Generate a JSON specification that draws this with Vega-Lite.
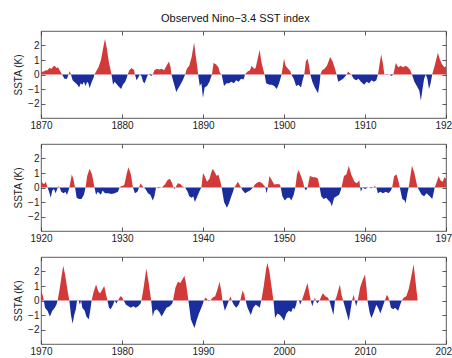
{
  "$schema": "https://vega.github.io/schema/vega-lite/v6.json",
  "background": "white",
  "padding": {"left": 13, "top": 13, "right": 0, "bottom": 0},
  "title": {"text": "Observed Nino\u22123.4 SST index", "fontSize": 11, "fontWeight": "normal", "font": "Liberation Sans", "color": "#111", "anchor": "middle", "offset": 6},
  "datasets": {
    "nino": [
      {"t":1870.0,"v":0.15},{"t":1870.3,"v":0.2},{"t":1870.6,"v":0.3},{"t":1870.8,"v":0.3},{"t":1871.05,"v":0.45},{"t":1871.3,"v":0.4},{"t":1871.5,"v":0.55},{"t":1871.7,"v":0.6},{"t":1871.9,"v":0.45},{"t":1872.1,"v":0.5},{"t":1872.3,"v":0.3},{"t":1872.5,"v":0.1},{"t":1872.6,"v":0},{"t":1872.9,"v":-0.3},{"t":1873.2,"v":-0.3},{"t":1873.4,"v":0},{"t":1873.55,"v":0.25},{"t":1873.7,"v":0},
      {"t":1873.9,"v":-0.4},{"t":1874.1,"v":-0.5},{"t":1874.3,"v":-0.6},{"t":1874.5,"v":-0.7},{"t":1874.7,"v":-0.9},{"t":1874.9,"v":-0.6},{"t":1875.1,"v":-0.7},{"t":1875.3,"v":-0.5},{"t":1875.5,"v":-0.8},{"t":1875.7,"v":-0.5},{"t":1875.85,"v":-0.6},{"t":1876.0,"v":-0.95},{"t":1876.2,"v":-0.6},{"t":1876.5,"v":-0.2},{"t":1876.6,"v":0},
      {"t":1876.8,"v":0.2},{"t":1877.1,"v":0.5},{"t":1877.4,"v":1.0},{"t":1877.7,"v":1.9},{"t":1877.9,"v":2.45},{"t":1878.1,"v":1.9},{"t":1878.4,"v":0.8},{"t":1878.6,"v":0.3},{"t":1878.7,"v":0},
      {"t":1878.9,"v":-0.7},{"t":1879.1,"v":-0.5},{"t":1879.4,"v":-0.7},{"t":1879.7,"v":-0.9},{"t":1879.9,"v":-1.0},{"t":1880.1,"v":-0.7},{"t":1880.4,"v":-0.5},{"t":1880.6,"v":-0.2},{"t":1880.7,"v":0},
      {"t":1880.9,"v":0.3},{"t":1881.2,"v":0.45},{"t":1881.5,"v":0.3},{"t":1881.6,"v":0},{"t":1881.8,"v":-0.4},{"t":1882.0,"v":-0.2},{"t":1882.2,"v":0},{"t":1882.4,"v":-0.1},{"t":1882.6,"v":-0.5},{"t":1882.8,"v":-0.6},{"t":1883.0,"v":-0.3},{"t":1883.2,"v":0},{"t":1883.4,"v":0.05},{"t":1883.6,"v":-0.1},{"t":1883.8,"v":0},
      {"t":1884.0,"v":0.3},{"t":1884.3,"v":0.4},{"t":1884.6,"v":0.35},{"t":1884.9,"v":0.4},{"t":1885.2,"v":0.3},{"t":1885.5,"v":0.6},{"t":1885.8,"v":0.9},{"t":1886.0,"v":0.5},{"t":1886.1,"v":0},
      {"t":1886.4,"v":-0.6},{"t":1886.7,"v":-1.2},{"t":1886.9,"v":-1.0},{"t":1887.2,"v":-0.7},{"t":1887.5,"v":-0.4},{"t":1887.8,"v":0},
      {"t":1888.0,"v":0.4},{"t":1888.3,"v":0.6},{"t":1888.6,"v":1.2},{"t":1888.9,"v":2.2},{"t":1889.1,"v":1.3},{"t":1889.3,"v":0.5},{"t":1889.4,"v":0},
      {"t":1889.6,"v":-0.8},{"t":1889.8,"v":-0.6},{"t":1890.0,"v":-1.6},{"t":1890.2,"v":-0.9},{"t":1890.5,"v":-0.8},{"t":1890.8,"v":-0.5},{"t":1891.1,"v":0},
      {"t":1891.3,"v":0.8},{"t":1891.6,"v":0.7},{"t":1891.9,"v":0.5},{"t":1892.1,"v":0.1},{"t":1892.3,"v":0},
      {"t":1892.6,"v":-0.8},{"t":1892.9,"v":-0.6},{"t":1893.2,"v":-0.6},{"t":1893.5,"v":-0.5},{"t":1893.8,"v":-0.6},{"t":1894.1,"v":-0.4},{"t":1894.4,"v":-0.5},{"t":1894.7,"v":-0.3},{"t":1895.0,"v":-0.35},{"t":1895.2,"v":0},
      {"t":1895.5,"v":0.2},{"t":1895.8,"v":0.3},{"t":1896.0,"v":0.6},{"t":1896.3,"v":0.4},{"t":1896.5,"v":0.45},{"t":1896.8,"v":1.2},{"t":1897.0,"v":1.7},{"t":1897.2,"v":0.9},{"t":1897.5,"v":0.2},{"t":1897.6,"v":0},
      {"t":1897.8,"v":-0.6},{"t":1898.2,"v":-0.7},{"t":1898.5,"v":-0.7},{"t":1898.8,"v":-0.8},{"t":1899.1,"v":-1.0},{"t":1899.4,"v":-0.6},{"t":1899.7,"v":0},
      {"t":1899.9,"v":0.7},{"t":1900.0,"v":1.1},{"t":1900.2,"v":0.6},{"t":1900.5,"v":0.4},{"t":1900.8,"v":0.2},{"t":1900.9,"v":0},
      {"t":1901.2,"v":-0.3},{"t":1901.5,"v":-0.8},{"t":1901.8,"v":-0.7},{"t":1902.1,"v":-0.9},{"t":1902.3,"v":-0.4},{"t":1902.5,"v":0},
      {"t":1902.7,"v":0.9},{"t":1902.9,"v":1.1},{"t":1903.1,"v":0.6},{"t":1903.25,"v":0},
      {"t":1903.5,"v":-0.5},{"t":1903.8,"v":-0.9},{"t":1904.2,"v":-1.3},{"t":1904.4,"v":-0.6},{"t":1904.5,"v":0},
      {"t":1904.7,"v":0.3},{"t":1905.0,"v":0.4},{"t":1905.3,"v":0.6},{"t":1905.5,"v":0.9},{"t":1905.7,"v":1.2},{"t":1906.0,"v":0.9},{"t":1906.3,"v":0.4},{"t":1906.5,"v":0},
      {"t":1906.7,"v":-0.5},{"t":1907.0,"v":-0.4},{"t":1907.3,"v":-0.3},{"t":1907.6,"v":-0.1},{"t":1907.75,"v":0},{"t":1907.9,"v":0.2},{"t":1908.1,"v":0.1},{"t":1908.3,"v":0},
      {"t":1908.6,"v":-0.3},{"t":1908.9,"v":-0.4},{"t":1909.2,"v":-0.3},{"t":1909.5,"v":-0.5},{"t":1909.9,"v":-0.7},{"t":1910.2,"v":-0.5},{"t":1910.5,"v":-0.6},{"t":1910.8,"v":-0.4},{"t":1911.1,"v":-0.5},{"t":1911.4,"v":-0.4},{"t":1911.6,"v":0},
      {"t":1911.8,"v":0.7},{"t":1912.0,"v":1.4},{"t":1912.2,"v":0.8},{"t":1912.4,"v":0},{"t":1912.7,"v":0.05},{"t":1913.0,"v":0},{"t":1913.3,"v":-0.1},{"t":1913.5,"v":0},
      {"t":1913.8,"v":0.8},{"t":1914.1,"v":0.5},{"t":1914.4,"v":0.6},{"t":1914.7,"v":0.5},{"t":1915.0,"v":0.6},{"t":1915.3,"v":0.5},{"t":1915.6,"v":0.3},{"t":1915.8,"v":0},
      {"t":1916.1,"v":-0.5},{"t":1916.4,"v":-0.8},{"t":1916.7,"v":-1.1},{"t":1916.9,"v":-1.8},{"t":1917.1,"v":-1.0},{"t":1917.3,"v":-0.3},{"t":1917.5,"v":0},{"t":1917.7,"v":-0.3},{"t":1917.9,"v":-1.0},{"t":1918.1,"v":-0.6},{"t":1918.3,"v":0},
      {"t":1918.6,"v":0.6},{"t":1919.0,"v":1.5},{"t":1919.2,"v":1.1},{"t":1919.5,"v":0.7},{"t":1919.8,"v":0.5},{"t":1920.0,"v":0.55},
      {"t":1920.2,"v":0.3},{"t":1920.4,"v":0.25},{"t":1920.6,"v":0.4},{"t":1920.8,"v":0},{"t":1921.0,"v":-0.3},{"t":1921.2,"v":-0.7},{"t":1921.4,"v":-0.2},{"t":1921.6,"v":-0.1},{"t":1921.8,"v":-0.4},{"t":1922.0,"v":-0.1},{"t":1922.1,"v":0},{"t":1922.2,"v":0.1},{"t":1922.3,"v":0},
      {"t":1922.5,"v":-0.3},{"t":1922.8,"v":-0.4},{"t":1923.0,"v":-0.3},{"t":1923.2,"v":-0.5},{"t":1923.4,"v":-0.2},{"t":1923.5,"v":0},
      {"t":1923.8,"v":0.9},{"t":1924.0,"v":0.6},{"t":1924.2,"v":0},{"t":1924.4,"v":-0.7},{"t":1924.7,"v":-0.8},{"t":1925.0,"v":-0.8},{"t":1925.3,"v":-0.5},{"t":1925.5,"v":0},
      {"t":1925.7,"v":0.8},{"t":1926.0,"v":1.3},{"t":1926.3,"v":0.9},{"t":1926.6,"v":0},
      {"t":1926.8,"v":-0.5},{"t":1927.0,"v":-0.3},{"t":1927.2,"v":-0.4},{"t":1927.4,"v":-0.5},{"t":1927.6,"v":-0.2},{"t":1927.9,"v":-0.4},{"t":1928.3,"v":-0.4},{"t":1928.7,"v":-0.45},{"t":1929.1,"v":-0.4},{"t":1929.5,"v":-0.3},{"t":1929.7,"v":0},
      {"t":1929.9,"v":0.1},{"t":1930.1,"v":0.1},{"t":1930.3,"v":0.2},{"t":1930.6,"v":1.0},{"t":1930.8,"v":1.4},{"t":1931.1,"v":0.9},{"t":1931.35,"v":0},
      {"t":1931.6,"v":-0.4},{"t":1931.9,"v":-0.3},{"t":1932.1,"v":0},{"t":1932.3,"v":0.3},{"t":1932.5,"v":0.1},{"t":1932.7,"v":0},
      {"t":1932.9,"v":-0.1},{"t":1933.2,"v":-0.4},{"t":1933.5,"v":-0.5},{"t":1933.8,"v":-0.9},{"t":1934.0,"v":-0.6},{"t":1934.2,"v":0},{"t":1934.5,"v":-0.05},{"t":1934.9,"v":0},
      {"t":1935.3,"v":0.2},{"t":1935.6,"v":0.5},{"t":1935.9,"v":0.6},{"t":1936.2,"v":0.3},{"t":1936.35,"v":0},{"t":1936.45,"v":-0.1},{"t":1936.6,"v":0},{"t":1936.9,"v":0.3},{"t":1937.2,"v":0.25},{"t":1937.5,"v":0.05},{"t":1937.8,"v":0},
      {"t":1938.1,"v":-0.3},{"t":1938.3,"v":-0.6},{"t":1938.6,"v":-0.7},{"t":1938.8,"v":-0.6},{"t":1939.0,"v":-1.0},{"t":1939.3,"v":-0.6},{"t":1939.6,"v":-0.2},{"t":1939.8,"v":0},
      {"t":1940.0,"v":1.0},{"t":1940.2,"v":0.8},{"t":1940.5,"v":0.4},{"t":1940.8,"v":0.6},{"t":1941.0,"v":1.0},{"t":1941.2,"v":1.3},{"t":1941.5,"v":1.0},{"t":1941.7,"v":0.8},{"t":1941.9,"v":0.9},{"t":1942.2,"v":0.3},{"t":1942.3,"v":0},
      {"t":1942.6,"v":-1.0},{"t":1942.95,"v":-1.4},{"t":1943.2,"v":-1.1},{"t":1943.5,"v":-0.6},{"t":1943.7,"v":-0.3},{"t":1943.85,"v":0},
      {"t":1944.0,"v":0.1},{"t":1944.3,"v":0.4},{"t":1944.6,"v":0.1},{"t":1944.7,"v":0},
      {"t":1944.9,"v":-0.2},{"t":1945.2,"v":-0.4},{"t":1945.5,"v":-0.3},{"t":1945.8,"v":-0.2},{"t":1946.2,"v":0},
      {"t":1946.4,"v":0.2},{"t":1946.7,"v":0.35},{"t":1947.0,"v":0.4},{"t":1947.3,"v":0.3},{"t":1947.6,"v":0.1},{"t":1947.7,"v":0},{"t":1947.85,"v":-0.4},{"t":1948.0,"v":0},
      {"t":1948.2,"v":0.8},{"t":1948.5,"v":0.5},{"t":1948.8,"v":0.2},{"t":1949.2,"v":0.25},{"t":1949.5,"v":0.2},{"t":1949.6,"v":0},
      {"t":1949.8,"v":-0.6},{"t":1950.1,"v":-0.9},{"t":1950.4,"v":-0.7},{"t":1950.7,"v":-0.7},{"t":1950.9,"v":-0.9},{"t":1951.2,"v":-0.5},{"t":1951.4,"v":0},
      {"t":1951.6,"v":0.9},{"t":1951.8,"v":1.2},{"t":1952.1,"v":0.8},{"t":1952.4,"v":0.3},{"t":1952.5,"v":0},{"t":1952.7,"v":-0.2},{"t":1952.9,"v":0},
      {"t":1953.2,"v":0.8},{"t":1953.6,"v":0.7},{"t":1953.9,"v":0.7},{"t":1954.2,"v":0.6},{"t":1954.4,"v":0},
      {"t":1954.6,"v":-0.6},{"t":1954.9,"v":-0.8},{"t":1955.2,"v":-0.7},{"t":1955.5,"v":-0.9},{"t":1955.7,"v":-1.0},{"t":1955.9,"v":-1.3},{"t":1956.2,"v":-0.7},{"t":1956.5,"v":-0.6},{"t":1956.8,"v":-0.5},{"t":1957.0,"v":-0.2},{"t":1957.1,"v":0},
      {"t":1957.4,"v":0.8},{"t":1957.7,"v":0.9},{"t":1958.0,"v":1.5},{"t":1958.3,"v":0.9},{"t":1958.7,"v":0.4},{"t":1959.0,"v":0.3},{"t":1959.3,"v":0.5},{"t":1959.4,"v":0},{"t":1959.5,"v":-0.3},{"t":1959.7,"v":0},
      {"t":1960.0,"v":-0.1},{"t":1960.4,"v":0},{"t":1960.8,"v":-0.05},{"t":1961.0,"v":0},{"t":1961.2,"v":0.1},{"t":1961.4,"v":0},
      {"t":1961.6,"v":-0.4},{"t":1961.9,"v":-0.3},{"t":1962.2,"v":-0.4},{"t":1962.6,"v":-0.3},{"t":1962.9,"v":-0.4},{"t":1963.2,"v":-0.2},{"t":1963.35,"v":0},
      {"t":1963.6,"v":0.8},{"t":1963.9,"v":0.9},{"t":1964.2,"v":0.3},{"t":1964.3,"v":0},{"t":1964.6,"v":-0.8},{"t":1964.9,"v":-0.9},{"t":1965.0,"v":-1.1},{"t":1965.3,"v":-0.2},{"t":1965.4,"v":0},
      {"t":1965.6,"v":0.8},{"t":1965.8,"v":1.5},{"t":1966.1,"v":1.0},{"t":1966.4,"v":0.2},{"t":1966.5,"v":0},
      {"t":1966.7,"v":-0.2},{"t":1967.0,"v":-0.5},{"t":1967.3,"v":-0.6},{"t":1967.6,"v":-0.4},{"t":1968.0,"v":-0.6},{"t":1968.3,"v":-0.8},{"t":1968.5,"v":-0.3},{"t":1968.6,"v":0},
      {"t":1968.8,"v":0.3},{"t":1969.1,"v":0.8},{"t":1969.3,"v":0.5},{"t":1969.6,"v":0.4},{"t":1969.8,"v":0.7},{"t":1970.0,"v":0.6},
      {"t":1970.2,"v":0.4},{"t":1970.35,"v":0},{"t":1970.5,"v":-0.5},{"t":1970.8,"v":-0.7},{"t":1971.1,"v":-1.1},{"t":1971.4,"v":-0.7},{"t":1971.7,"v":-0.5},{"t":1971.9,"v":-0.3},{"t":1972.05,"v":0},
      {"t":1972.3,"v":0.8},{"t":1972.6,"v":1.9},{"t":1972.75,"v":2.4},{"t":1973.0,"v":1.7},{"t":1973.3,"v":0.6},{"t":1973.5,"v":0},
      {"t":1973.7,"v":-1.0},{"t":1973.9,"v":-1.6},{"t":1974.1,"v":-1.0},{"t":1974.3,"v":-0.6},{"t":1974.45,"v":0},{"t":1974.55,"v":0.05},{"t":1974.65,"v":0},{"t":1974.8,"v":-0.3},{"t":1974.95,"v":0},
      {"t":1975.1,"v":-0.5},{"t":1975.4,"v":-0.7},{"t":1975.6,"v":-1.1},{"t":1975.9,"v":-1.3},{"t":1976.1,"v":-0.6},{"t":1976.25,"v":0},
      {"t":1976.5,"v":0.6},{"t":1976.8,"v":1.1},{"t":1977.1,"v":0.6},{"t":1977.3,"v":0.5},{"t":1977.6,"v":0.8},{"t":1977.8,"v":1.0},{"t":1978.0,"v":0.5},{"t":1978.2,"v":0},
      {"t":1978.4,"v":-0.5},{"t":1978.6,"v":-0.6},{"t":1978.9,"v":-0.3},{"t":1979.1,"v":0},{"t":1979.3,"v":-0.2},{"t":1979.5,"v":0},{"t":1979.8,"v":0.3},{"t":1980.0,"v":0.25},{"t":1980.2,"v":0},
      {"t":1980.5,"v":-0.3},{"t":1980.8,"v":-0.4},{"t":1981.1,"v":-0.5},{"t":1981.4,"v":-0.4},{"t":1981.7,"v":-0.5},{"t":1982.0,"v":-0.4},{"t":1982.3,"v":-0.2},{"t":1982.4,"v":0},
      {"t":1982.7,"v":1.0},{"t":1983.0,"v":2.2},{"t":1983.3,"v":1.2},{"t":1983.6,"v":0},
      {"t":1983.8,"v":-1.1},{"t":1984.0,"v":-0.7},{"t":1984.3,"v":-0.6},{"t":1984.6,"v":-0.8},{"t":1984.9,"v":-1.1},{"t":1985.2,"v":-0.8},{"t":1985.5,"v":-0.5},{"t":1985.9,"v":-0.4},{"t":1986.2,"v":-0.2},{"t":1986.3,"v":0},
      {"t":1986.6,"v":0.9},{"t":1986.9,"v":1.3},{"t":1987.2,"v":1.2},{"t":1987.5,"v":1.5},{"t":1987.7,"v":1.7},{"t":1987.9,"v":1.2},{"t":1988.2,"v":0},
      {"t":1988.5,"v":-1.3},{"t":1988.8,"v":-1.7},{"t":1988.95,"v":-1.9},{"t":1989.2,"v":-1.4},{"t":1989.5,"v":-0.9},{"t":1989.8,"v":-0.5},{"t":1990.0,"v":-0.2},{"t":1990.1,"v":0},
      {"t":1990.3,"v":0.2},{"t":1990.5,"v":0.1},{"t":1990.6,"v":0},{"t":1990.7,"v":-0.05},{"t":1990.9,"v":0},
      {"t":1991.2,"v":0.2},{"t":1991.5,"v":0.3},{"t":1991.8,"v":0.8},{"t":1992.05,"v":1.3},{"t":1992.3,"v":0.5},{"t":1992.4,"v":0},
      {"t":1992.7,"v":-0.7},{"t":1993.0,"v":-0.3},{"t":1993.2,"v":0},{"t":1993.4,"v":0.3},{"t":1993.55,"v":0},{"t":1993.8,"v":-0.3},{"t":1994.1,"v":-0.5},{"t":1994.4,"v":-0.3},{"t":1994.6,"v":0},
      {"t":1994.9,"v":0.7},{"t":1995.1,"v":0.4},{"t":1995.25,"v":0},
      {"t":1995.5,"v":-0.5},{"t":1995.9,"v":-1.0},{"t":1996.2,"v":-0.5},{"t":1996.5,"v":-0.3},{"t":1996.8,"v":-0.4},{"t":1997.0,"v":-0.5},{"t":1997.2,"v":0},
      {"t":1997.5,"v":1.0},{"t":1997.8,"v":2.2},{"t":1997.95,"v":2.6},{"t":1998.2,"v":2.0},{"t":1998.5,"v":0.8},{"t":1998.7,"v":0},
      {"t":1998.9,"v":-1.2},{"t":1999.2,"v":-0.9},{"t":1999.5,"v":-1.0},{"t":1999.8,"v":-1.2},{"t":2000.0,"v":-1.4},{"t":2000.3,"v":-0.9},{"t":2000.6,"v":-0.7},{"t":2000.9,"v":-0.8},{"t":2001.1,"v":-0.5},{"t":2001.3,"v":-0.6},{"t":2001.5,"v":-0.3},{"t":2001.6,"v":0},
      {"t":2001.75,"v":0.05},{"t":2001.85,"v":0},{"t":2002.0,"v":-0.3},{"t":2002.2,"v":0},
      {"t":2002.5,"v":0.5},{"t":2002.9,"v":1.2},{"t":2003.1,"v":0.6},{"t":2003.3,"v":0},{"t":2003.5,"v":-0.4},{"t":2003.7,"v":0},{"t":2003.8,"v":0.2},{"t":2003.95,"v":0},{"t":2004.1,"v":-0.2},{"t":2004.4,"v":0},
      {"t":2004.6,"v":0.3},{"t":2004.8,"v":0.5},{"t":2005.1,"v":0.3},{"t":2005.4,"v":0.2},{"t":2005.6,"v":0},
      {"t":2005.8,"v":-0.4},{"t":2006.1,"v":-1.0},{"t":2006.3,"v":0},
      {"t":2006.5,"v":0.3},{"t":2006.9,"v":1.1},{"t":2007.1,"v":0.4},{"t":2007.3,"v":0},
      {"t":2007.6,"v":-0.6},{"t":2007.9,"v":-1.2},{"t":2008.0,"v":-1.4},{"t":2008.2,"v":-0.7},{"t":2008.4,"v":0},{"t":2008.6,"v":0.4},{"t":2008.75,"v":0},{"t":2008.9,"v":-0.4},{"t":2009.1,"v":0},
      {"t":2009.4,"v":0.9},{"t":2009.7,"v":1.4},{"t":2010.0,"v":1.8},{"t":2010.2,"v":0.8},{"t":2010.3,"v":0},
      {"t":2010.6,"v":-0.9},{"t":2010.8,"v":-1.2},{"t":2011.1,"v":-0.8},{"t":2011.4,"v":-0.3},{"t":2011.7,"v":-0.6},{"t":2011.9,"v":-0.9},{"t":2012.2,"v":-0.4},{"t":2012.45,"v":0},
      {"t":2012.7,"v":0.4},{"t":2012.9,"v":0.2},{"t":2013.0,"v":0},
      {"t":2013.2,"v":-0.5},{"t":2013.5,"v":-0.6},{"t":2013.7,"v":-0.5},{"t":2013.9,"v":-0.6},{"t":2014.1,"v":-0.7},{"t":2014.4,"v":-0.2},{"t":2014.55,"v":0},
      {"t":2014.8,"v":0.2},{"t":2015.1,"v":0.3},{"t":2015.4,"v":0.8},{"t":2015.7,"v":1.6},{"t":2016.0,"v":2.5},{"t":2016.2,"v":1.5},{"t":2016.5,"v":0}
    ]
  },
  "data": {"name": "nino"},
  "spacing": 26,
  "bounds": "flush",
  "vconcat": [
    {
      "width": 405, "height": 87,
      "transform": [{"filter": "datum.t >= 1870 && datum.t <= 1920"}],
      "layer": [
        {"mark": {"type": "area", "color": "#d23a3a", "interpolate": "linear"},
         "encoding": {
           "x": {"field": "t", "type": "quantitative", "scale": {"domain": [1870, 1920], "nice": false, "zero": false},
                 "axis": {"orient": "bottom", "values": [1870, 1880, 1890, 1900, 1910, 1920], "format": "d", "title": null}},
           "y": {"field": "v", "type": "quantitative", "scale": {"domain": [0, 3], "range": [43.5, 0], "clamp": true, "nice": false, "zero": false}, "axis": null},
           "y2": {"datum": 0}}},
        {"mark": {"type": "area", "color": "#1b2c9c", "interpolate": "linear"},
         "encoding": {
           "x": {"field": "t", "type": "quantitative", "axis": {"orient": "top", "values": [1870, 1880, 1890, 1900, 1910, 1920], "labels": false, "title": null}},
           "y": {"field": "v", "type": "quantitative", "scale": {"domain": [-3, 0], "range": [87, 43.5], "clamp": true, "nice": false, "zero": false}, "axis": null},
           "y2": {"datum": 0}}},
        {"mark": {"type": "rule", "strokeOpacity": 0},
         "encoding": {"y": {"datum": 0, "type": "quantitative", "scale": {"domain": [-3, 3], "nice": false}, "axis": {"orient": "left", "values": [-2, -1, 0, 1, 2], "title": "SSTA (K)"}}}},
        {"mark": {"type": "rule", "strokeOpacity": 0},
         "encoding": {"y": {"datum": 0, "type": "quantitative", "scale": {"domain": [-3, 3], "nice": false}, "axis": {"orient": "right", "values": [-2, -1, 0, 1, 2], "labels": false, "title": null}}}}
      ],
      "resolve": {"scale": {"y": "independent"}, "axis": {"x": "independent", "y": "independent"}}
    },
    {
      "width": 405, "height": 87,
      "transform": [{"filter": "datum.t >= 1920 && datum.t <= 1970"}],
      "layer": [
        {"mark": {"type": "area", "color": "#d23a3a", "interpolate": "linear"},
         "encoding": {
           "x": {"field": "t", "type": "quantitative", "scale": {"domain": [1920, 1970], "nice": false, "zero": false},
                 "axis": {"orient": "bottom", "values": [1920, 1930, 1940, 1950, 1960, 1970], "format": "d", "title": null}},
           "y": {"field": "v", "type": "quantitative", "scale": {"domain": [0, 3], "range": [43.5, 0], "clamp": true, "nice": false, "zero": false}, "axis": null},
           "y2": {"datum": 0}}},
        {"mark": {"type": "area", "color": "#1b2c9c", "interpolate": "linear"},
         "encoding": {
           "x": {"field": "t", "type": "quantitative", "axis": {"orient": "top", "values": [1920, 1930, 1940, 1950, 1960, 1970], "labels": false, "title": null}},
           "y": {"field": "v", "type": "quantitative", "scale": {"domain": [-3, 0], "range": [87, 43.5], "clamp": true, "nice": false, "zero": false}, "axis": null},
           "y2": {"datum": 0}}},
        {"mark": {"type": "rule", "strokeOpacity": 0},
         "encoding": {"y": {"datum": 0, "type": "quantitative", "scale": {"domain": [-3, 3], "nice": false}, "axis": {"orient": "left", "values": [-2, -1, 0, 1, 2], "title": "SSTA (K)"}}}},
        {"mark": {"type": "rule", "strokeOpacity": 0},
         "encoding": {"y": {"datum": 0, "type": "quantitative", "scale": {"domain": [-3, 3], "nice": false}, "axis": {"orient": "right", "values": [-2, -1, 0, 1, 2], "labels": false, "title": null}}}}
      ],
      "resolve": {"scale": {"y": "independent"}, "axis": {"x": "independent", "y": "independent"}}
    },
    {
      "width": 405, "height": 87,
      "transform": [{"filter": "datum.t >= 1970 && datum.t <= 2020"}],
      "layer": [
        {"mark": {"type": "area", "color": "#d23a3a", "interpolate": "linear"},
         "encoding": {
           "x": {"field": "t", "type": "quantitative", "scale": {"domain": [1970, 2020], "nice": false, "zero": false},
                 "axis": {"orient": "bottom", "values": [1970, 1980, 1990, 2000, 2010, 2020], "format": "d", "title": null}},
           "y": {"field": "v", "type": "quantitative", "scale": {"domain": [0, 3], "range": [43.5, 0], "clamp": true, "nice": false, "zero": false}, "axis": null},
           "y2": {"datum": 0}}},
        {"mark": {"type": "area", "color": "#1b2c9c", "interpolate": "linear"},
         "encoding": {
           "x": {"field": "t", "type": "quantitative", "axis": {"orient": "top", "values": [1970, 1980, 1990, 2000, 2010, 2020], "labels": false, "title": null}},
           "y": {"field": "v", "type": "quantitative", "scale": {"domain": [-3, 0], "range": [87, 43.5], "clamp": true, "nice": false, "zero": false}, "axis": null},
           "y2": {"datum": 0}}},
        {"mark": {"type": "rule", "strokeOpacity": 0},
         "encoding": {"y": {"datum": 0, "type": "quantitative", "scale": {"domain": [-3, 3], "nice": false}, "axis": {"orient": "left", "values": [-2, -1, 0, 1, 2], "title": "SSTA (K)"}}}},
        {"mark": {"type": "rule", "strokeOpacity": 0},
         "encoding": {"y": {"datum": 0, "type": "quantitative", "scale": {"domain": [-3, 3], "nice": false}, "axis": {"orient": "right", "values": [-2, -1, 0, 1, 2], "labels": false, "title": null}}}}
      ],
      "resolve": {"scale": {"y": "independent"}, "axis": {"x": "independent", "y": "independent"}}
    }
  ],
  "config": {
    "font": "Liberation Sans",
    "view": {"stroke": "#333", "strokeWidth": 0.8},
    "axis": {
      "grid": false, "domain": false, "ticks": true, "tickSize": -4, "tickColor": "#333", "tickWidth": 0.8,
      "labelFont": "Liberation Sans", "labelFontSize": 10, "labelColor": "#222", "labelFlush": false, "labelPadding": 6,
      "titleFont": "Liberation Sans", "titleFontSize": 10, "titleFontWeight": "normal", "titleColor": "#222", "titlePadding": 4
    }
  }
}
